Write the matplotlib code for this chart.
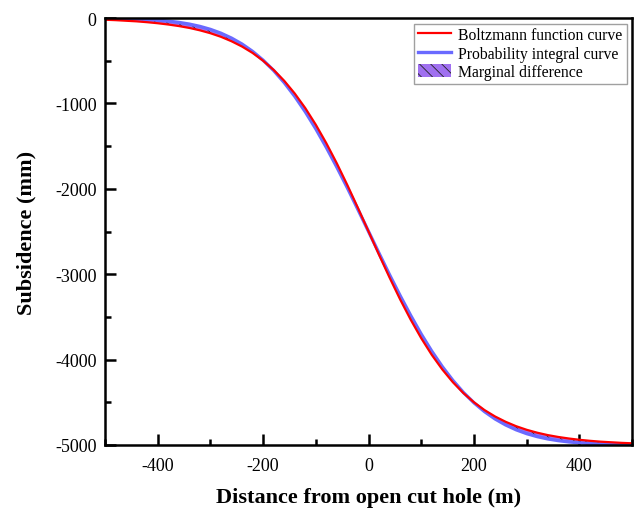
import matplotlib
matplotlib.use("Agg")
import matplotlib.pyplot as plt
from matplotlib.ticker import MultipleLocator

distance = list(range(-500, 501, 20))
boltzmann = [-20, -25, -32, -39, -49, -61, -76, -94, -116, -144, -178, -220, -272, -334, -409, -500, -608, -735, -884, -1055, -1250, -1467, -1704, -1959, -2226, -2500, -2774, -3041, -3296, -3533, -3750, -3945, -4116, -4265, -4392, -4500, -4591, -4666, -4728, -4780, -4822, -4856, -4884, -4906, -4924, -4939, -4951, -4961, -4968, -4975, -4980]
probability = [-3, -5, -8, -11, -17, -25, -36, -51, -71, -98, -133, -178, -235, -305, -391, -494, -615, -756, -917, -1098, -1298, -1516, -1748, -1991, -2244, -2500, -2756, -3009, -3252, -3484, -3702, -3902, -4083, -4244, -4385, -4506, -4609, -4695, -4765, -4822, -4867, -4902, -4929, -4949, -4964, -4975, -4983, -4989, -4992, -4995, -4997]

plt.rcParams['font.family'] = ['Liberation Serif', 'DejaVu Serif']
plt.rcParams['axes.unicode_minus'] = False
plt.rcParams['hatch.linewidth'] = 0.6

fig = plt.figure(figsize=(6.34, 5.10), dpi=100)
ax = fig.add_axes([0.1656, 0.1255, 0.8314, 0.8372])

ax.fill_between(distance, boltzmann, probability, facecolor='#a070f0', edgecolor='#222222',
                hatch='\\\\\\', linewidth=0, label='Marginal difference')
ax.plot(distance, probability, color='#6a6aff', lw=2.4, label='Probability integral curve')
ax.plot(distance, boltzmann, color='#ff0000', lw=1.6, label='Boltzmann function curve')

ax.set_xlim(-500, 500)
ax.set_ylim(-5000, 0)
ax.xaxis.set_major_locator(MultipleLocator(200))
ax.xaxis.set_minor_locator(MultipleLocator(100))
ax.yaxis.set_major_locator(MultipleLocator(1000))
ax.yaxis.set_minor_locator(MultipleLocator(500))
ax.tick_params(which='both', direction='in', top=False, right=False, labelsize=13, width=1.8)
ax.tick_params(which='major', length=8)
ax.tick_params(which='minor', length=4)
ax.tick_params(axis='x', pad=9)
ax.tick_params(axis='y', pad=6)
for s in ax.spines.values():
    s.set_linewidth(1.8)

ax.set_xlabel('Distance from open cut hole (m)', fontsize=16, fontweight='bold', labelpad=9)
ax.set_ylabel('Subsidence (mm)', fontsize=16, fontweight='bold', labelpad=13)

h, l = ax.get_legend_handles_labels()
order = [2, 1, 0]
leg = ax.legend([h[i] for i in order], [l[i] for i in order], loc='upper right',
                fontsize=11.3, frameon=True, fancybox=False, edgecolor='#888888',
                borderpad=0.25, handlelength=2.1, handleheight=0.9, labelspacing=0.15,
                handletextpad=0.45, borderaxespad=0.35)
leg.get_frame().set_linewidth(1.0)

fig.savefig('out.png', dpi=100)
